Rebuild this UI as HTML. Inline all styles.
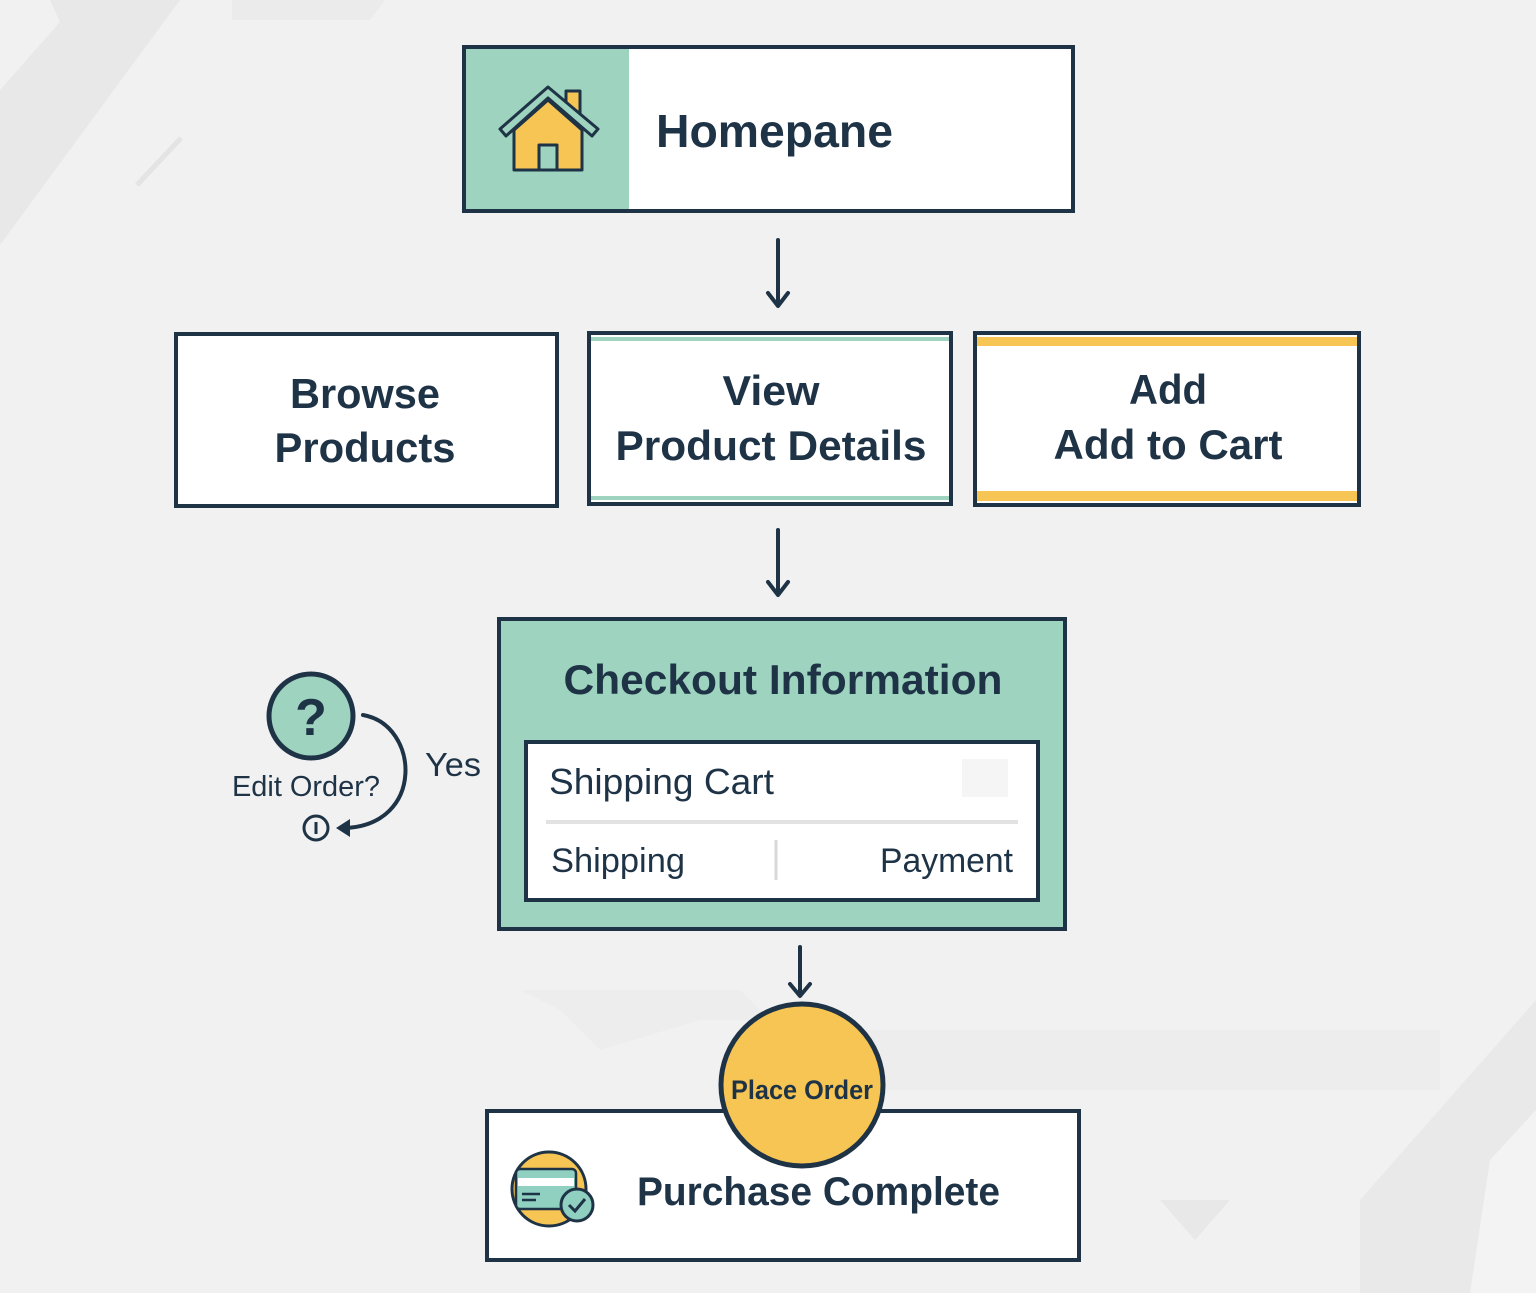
<!DOCTYPE html>
<html><head><meta charset="utf-8"><style>
html,body{margin:0;padding:0;background:#f1f1f1;}
svg{display:block;}
text{font-family:"Liberation Sans",sans-serif;fill:#1f3347;}
</style></head><body>
<svg width="1536" height="1293" viewBox="0 0 1536 1293" xmlns="http://www.w3.org/2000/svg">
<rect width="1536" height="1293" fill="#f1f1f1"/>
<!-- background shapes -->
<polygon points="50,0 180,0 0,245 0,90 60,22" fill="#e8e8e8"/>
<polygon points="232,0 385,0 370,20 232,20" fill="#ebebeb"/>
<line x1="137" y1="185" x2="181" y2="138" stroke="#e4e4e4" stroke-width="5"/>
<polygon points="520,990 740,990 780,1030 1440,1030 1440,1090 880,1090 800,1020 700,1020 600,1050 560,1010" fill="#ececec" opacity="0.8"/>
<polygon points="1536,1000 1536,1293 1360,1293 1360,1200" fill="#e9e9e9"/>
<polygon points="1490,1160 1536,1110 1536,1293 1470,1293" fill="#f3f3f3"/>
<polygon points="1160,1200 1230,1200 1195,1240" fill="#e8e8e8"/>

<!-- Homepane -->
<rect x="464" y="47" width="609" height="164" fill="#fff" stroke="#1f3347" stroke-width="4"/>
<rect x="466" y="49" width="163" height="160" fill="#9dd3bf"/>
<g stroke="#1f3347" stroke-width="3" stroke-linejoin="round">
<rect x="566" y="91" width="14" height="28" fill="#f7c553"/>
<polygon points="514,130 548,100 582,130 582,170 514,170" fill="#f7c553"/>
<polygon points="500,129 548,87 598,129 592,136 548,98 506,136" fill="#9dd3bf"/>
<rect x="539" y="145" width="18" height="25" fill="#9dd3bf"/>
</g>
<text x="656" y="147" font-size="46" font-weight="bold" textLength="237" lengthAdjust="spacingAndGlyphs">Homepane</text>

<!-- arrows -->
<g stroke="#1f3347" stroke-width="4" fill="none" stroke-linecap="round" stroke-linejoin="round">
<line x1="778" y1="240" x2="778" y2="305"/><polyline points="768,293 778,306 788,293"/>
<line x1="778" y1="530" x2="778" y2="594"/><polyline points="768,582 778,595 788,582"/>
<line x1="800" y1="947" x2="800" y2="995"/><polyline points="790,984 800,996 810,984"/>
</g>

<!-- row boxes -->
<rect x="176" y="334" width="381" height="172" fill="#fff" stroke="#1f3347" stroke-width="4"/>
<text x="365" y="408" font-size="42" font-weight="bold" text-anchor="middle" textLength="150" lengthAdjust="spacingAndGlyphs">Browse</text>
<text x="365" y="462" font-size="42" font-weight="bold" text-anchor="middle" textLength="181" lengthAdjust="spacingAndGlyphs">Products</text>

<rect x="589" y="333" width="362" height="171" fill="#fff" stroke="#1f3347" stroke-width="4"/>
<rect x="591" y="337" width="358" height="4" fill="#9dd3bf"/>
<rect x="591" y="496" width="358" height="4" fill="#9dd3bf"/>
<text x="771" y="405" font-size="42" font-weight="bold" text-anchor="middle" textLength="97" lengthAdjust="spacingAndGlyphs">View</text>
<text x="771" y="460" font-size="42" font-weight="bold" text-anchor="middle" textLength="311" lengthAdjust="spacingAndGlyphs">Product Details</text>

<rect x="975" y="333" width="384" height="172" fill="#fff" stroke="#1f3347" stroke-width="4"/>
<rect x="977" y="337" width="380" height="9" fill="#f7c553"/>
<rect x="977" y="491" width="380" height="10" fill="#f7c553"/>
<text x="1168" y="404" font-size="42" font-weight="bold" text-anchor="middle" textLength="78" lengthAdjust="spacingAndGlyphs">Add</text>
<text x="1168" y="459" font-size="42" font-weight="bold" text-anchor="middle" textLength="229" lengthAdjust="spacingAndGlyphs">Add to Cart</text>

<!-- Checkout -->
<rect x="499" y="619" width="566" height="310" fill="#9dd3bf" stroke="#1f3347" stroke-width="4"/>
<text x="783" y="694" font-size="42" font-weight="bold" text-anchor="middle" textLength="439" lengthAdjust="spacingAndGlyphs">Checkout Information</text>
<rect x="526" y="742" width="512" height="158" fill="#fff" stroke="#1f3347" stroke-width="4"/>
<rect x="962" y="759" width="46" height="38" fill="#f5f5f5"/>
<line x1="546" y1="822" x2="1018" y2="822" stroke="#e2e2e2" stroke-width="4"/>
<line x1="776" y1="840" x2="776" y2="880" stroke="#d8d8d8" stroke-width="3"/>
<text x="549" y="794" font-size="36" textLength="225" lengthAdjust="spacingAndGlyphs">Shipping Cart</text>
<text x="551" y="872" font-size="34" textLength="134" lengthAdjust="spacingAndGlyphs">Shipping</text>
<text x="880" y="872" font-size="34" textLength="133" lengthAdjust="spacingAndGlyphs">Payment</text>

<!-- decision -->
<circle cx="311" cy="716" r="42" fill="#9dd3bf" stroke="#1f3347" stroke-width="5"/>
<text x="311" y="735" font-size="52" font-weight="bold" text-anchor="middle">?</text>
<text x="232" y="796" font-size="29" textLength="148" lengthAdjust="spacingAndGlyphs">Edit Order?</text>
<text x="425" y="776" font-size="33" textLength="56" lengthAdjust="spacingAndGlyphs">Yes</text>
<path d="M363,715 C420,725 425,825 345,828" fill="none" stroke="#1f3347" stroke-width="4" stroke-linecap="round"/>
<polygon points="336,828 350,819 350,837" fill="#1f3347"/>
<circle cx="316" cy="828" r="12" fill="none" stroke="#1f3347" stroke-width="3"/>
<line x1="316" y1="822" x2="316" y2="834" stroke="#1f3347" stroke-width="3"/>

<!-- Purchase complete -->
<rect x="487" y="1111" width="592" height="149" fill="#fff" stroke="#1f3347" stroke-width="4"/>
<circle cx="549" cy="1189" r="37" fill="#f7c553" stroke="#1f3347" stroke-width="3"/>
<rect x="516" y="1169" width="60" height="40" rx="4" fill="#8fd0c1" stroke="#1f3347" stroke-width="2.5"/>
<rect x="518" y="1178" width="56" height="8" fill="#fff"/>
<line x1="522" y1="1194" x2="540" y2="1194" stroke="#1f3347" stroke-width="2.5"/>
<line x1="522" y1="1200" x2="536" y2="1200" stroke="#1f3347" stroke-width="2.5"/>
<circle cx="577" cy="1205" r="16" fill="#8fd0c1" stroke="#1f3347" stroke-width="3"/>
<polyline points="569,1205 575,1211 585,1199" fill="none" stroke="#1f3347" stroke-width="3"/>
<text x="637" y="1205" font-size="40" font-weight="bold" textLength="363" lengthAdjust="spacingAndGlyphs">Purchase Complete</text>

<circle cx="802" cy="1085" r="81" fill="#f7c553" stroke="#1f3347" stroke-width="5"/>
<text x="802" y="1099" font-size="27" font-weight="bold" text-anchor="middle" textLength="142" lengthAdjust="spacingAndGlyphs">Place Order</text>
</svg>
</body></html>
